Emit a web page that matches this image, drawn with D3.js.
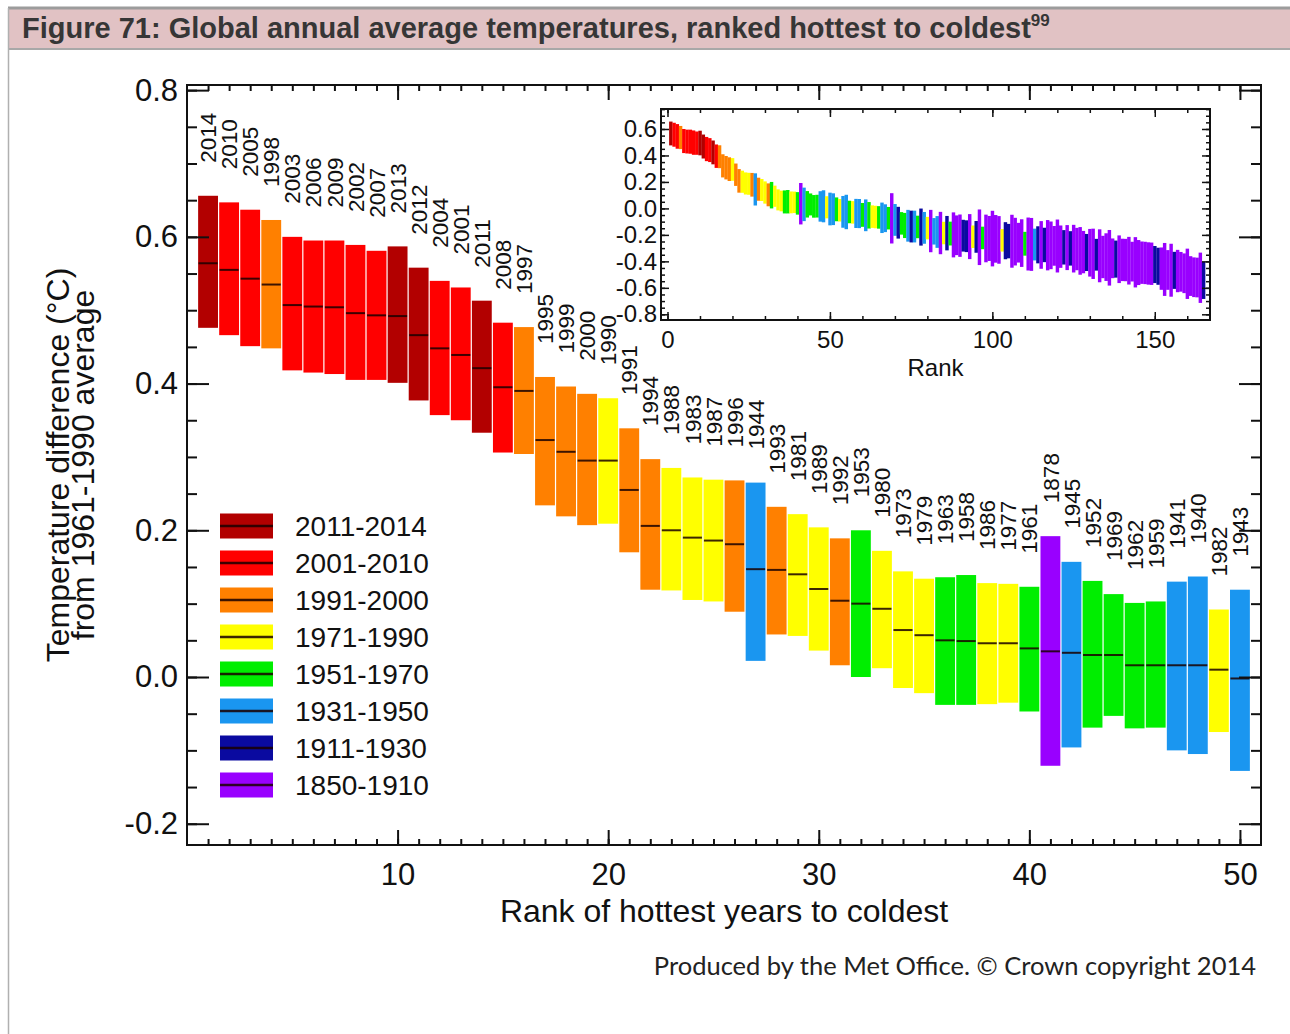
<!DOCTYPE html>
<html>
<head>
<meta charset="utf-8">
<script src="https://cdn.jsdelivr.net/npm/d3@7"></script>
<style>
  body { margin: 0; background: #fff; }
  svg { display: block; }
  text { font-family: "Liberation Sans", Arial, Helvetica, sans-serif; fill: #111; }
</style>
</head>
<body>
<svg id="chart" width="1290" height="1034"></svg>
<script>
// ---- Periods used to colour each year ----
const periodLabels    = ["2011-2014", "2001-2010", "1991-2000", "1971-1990", "1951-1970", "1931-1950", "1911-1930", "1850-1910"];
const periodFirstYear = [2011, 2001, 1991, 1971, 1951, 1931, 1911, 1850];
const periodColors    = ["#b20000", "#ff0000", "#ff8000", "#ffff00", "#00ee00", "#1a96f0", "#0a0aa0", "#9900ff"];

// ---- Top 50 years, ranked hottest to coldest (anomaly vs 1961-1990, °C) ----
const rankYears  = [2014, 2010, 2005, 1998, 2003, 2006, 2009, 2002, 2007, 2013,
                    2012, 2004, 2001, 2011, 2008, 1997, 1995, 1999, 2000, 1990,
                    1991, 1994, 1988, 1983, 1987, 1996, 1944, 1993, 1981, 1989,
                    1992, 1953, 1980, 1973, 1979, 1963, 1958, 1986, 1977, 1961,
                    1878, 1945, 1952, 1969, 1962, 1959, 1941, 1940, 1982, 1943];
const rankCentre = [0.564, 0.555, 0.543, 0.535, 0.507, 0.505, 0.504, 0.496, 0.493, 0.492,
                    0.466, 0.448, 0.439, 0.421, 0.395, 0.390, 0.323, 0.307, 0.295, 0.295,
                    0.255, 0.206, 0.200, 0.190, 0.186, 0.181, 0.147, 0.146, 0.140, 0.120,
                    0.104, 0.100, 0.093, 0.064, 0.057, 0.050, 0.049, 0.046, 0.046, 0.039,
                    0.035, 0.033, 0.030, 0.030, 0.016, 0.016, 0.016, 0.016, 0.010, -0.002];
const rankLower  = [0.476, 0.466, 0.451, 0.448, 0.418, 0.415, 0.413, 0.405, 0.405, 0.401,
                    0.377, 0.357, 0.350, 0.333, 0.306, 0.304, 0.234, 0.219, 0.207, 0.209,
                    0.170, 0.119, 0.118, 0.105, 0.103, 0.089, 0.022, 0.058, 0.056, 0.036,
                    0.016, 0.000, 0.012, -0.015, -0.022, -0.038, -0.038, -0.037, -0.035, -0.047,
                    -0.121, -0.096, -0.069, -0.053, -0.070, -0.069, -0.100, -0.105, -0.075, -0.128];
const rankUpper  = [0.656, 0.647, 0.637, 0.623, 0.600, 0.595, 0.595, 0.589, 0.581, 0.587,
                    0.558, 0.540, 0.531, 0.513, 0.483, 0.477, 0.409, 0.396, 0.386, 0.380,
                    0.339, 0.297, 0.285, 0.272, 0.269, 0.268, 0.265, 0.232, 0.222, 0.204,
                    0.189, 0.200, 0.172, 0.144, 0.134, 0.136, 0.139, 0.128, 0.127, 0.123,
                    0.192, 0.157, 0.131, 0.113, 0.101, 0.103, 0.130, 0.137, 0.092, 0.119];

// ---- Remaining years (ranks 51-165) for the full-record inset ----
const tailYears  = [1938, 1957, 1984, 1937, 1942, 1970, 1985, 1947, 1948, 1960,
                    1939, 1951, 1978, 1972, 1966, 1946, 1949, 1967, 1877, 1931,
                    1926, 1968, 1954, 1934, 1930, 1932, 1965, 1915, 1936, 1975,
                    1889, 1950, 1935, 1896, 1971, 1921, 1955, 1881, 1900, 1897,
                    1928, 1927, 1882, 1974, 1925, 1851, 1964, 1872, 1880, 1852,
                    1879, 1868, 1976, 1914, 1920, 1854, 1866, 1901, 1869, 1956,
                    1853, 1855, 1933, 1919, 1870, 1923, 1863, 1865, 1906, 1859,
                    1899, 1924, 1883, 1922, 1873, 1888, 1867, 1891, 1918, 1871,
                    1860, 1929, 1856, 1886, 1874, 1850, 1905, 1916, 1876, 1885,
                    1895, 1875, 1902, 1861, 1884, 1894, 1898, 1890, 1887, 1913,
                    1912, 1892, 1857, 1907, 1858, 1917, 1893, 1903, 1910, 1864,
                    1908, 1904, 1909, 1862, 1911];
const tailCentre = [-0.006, -0.007, -0.014, -0.026, -0.027, -0.027, -0.030, -0.038, -0.039, -0.049,
                    -0.052, -0.052, -0.062, -0.065, -0.068, -0.071, -0.074, -0.074, -0.075, -0.087,
                    -0.108, -0.113, -0.129, -0.131, -0.137, -0.137, -0.140, -0.141, -0.147, -0.149,
                    -0.171, -0.173, -0.178, -0.186, -0.186, -0.187, -0.190, -0.200, -0.203, -0.206,
                    -0.206, -0.210, -0.213, -0.214, -0.215, -0.218, -0.223, -0.227, -0.227, -0.228,
                    -0.230, -0.238, -0.241, -0.244, -0.247, -0.248, -0.251, -0.259, -0.262, -0.267,
                    -0.269, -0.272, -0.273, -0.275, -0.276, -0.276, -0.278, -0.279, -0.283, -0.284,
                    -0.289, -0.294, -0.296, -0.302, -0.304, -0.307, -0.321, -0.330, -0.333, -0.335,
                    -0.343, -0.350, -0.358, -0.367, -0.368, -0.373, -0.377, -0.383, -0.384, -0.389,
                    -0.390, -0.395, -0.402, -0.407, -0.409, -0.410, -0.412, -0.416, -0.418, -0.424,
                    -0.437, -0.455, -0.461, -0.465, -0.467, -0.468, -0.473, -0.479, -0.490, -0.494,
                    -0.511, -0.520, -0.522, -0.524, -0.544];
const tailHalf   = [0.12, 0.09, 0.085, 0.12, 0.13, 0.085, 0.085, 0.11, 0.11, 0.09,
                    0.12, 0.10, 0.085, 0.085, 0.085, 0.115, 0.105, 0.085, 0.19, 0.12,
                    0.12, 0.085, 0.095, 0.12, 0.12, 0.12, 0.085, 0.14, 0.12, 0.085,
                    0.16, 0.10, 0.12, 0.16, 0.085, 0.13, 0.09, 0.17, 0.15, 0.16,
                    0.12, 0.12, 0.17, 0.085, 0.12, 0.21, 0.085, 0.18, 0.17, 0.21,
                    0.18, 0.18, 0.085, 0.14, 0.13, 0.20, 0.18, 0.15, 0.18, 0.09,
                    0.20, 0.20, 0.12, 0.14, 0.18, 0.13, 0.19, 0.18, 0.15, 0.20,
                    0.16, 0.13, 0.17, 0.13, 0.18, 0.16, 0.18, 0.16, 0.14, 0.18,
                    0.19, 0.12, 0.20, 0.16, 0.18, 0.21, 0.15, 0.14, 0.18, 0.16,
                    0.16, 0.18, 0.15, 0.19, 0.17, 0.16, 0.16, 0.16, 0.16, 0.14,
                    0.14, 0.16, 0.20, 0.15, 0.20, 0.14, 0.16, 0.15, 0.15, 0.19,
                    0.15, 0.15, 0.15, 0.19, 0.14];

// ---- Axis tick values ----
const xMajorTicks = [10, 20, 30, 40, 50];
const yMajorTicks = [-0.2, 0.0, 0.2, 0.4, 0.6, 0.8];
const insetXTicks = [0, 50, 100, 150];
const insetYTicks = [-0.8, -0.6, -0.4, -0.2, 0.0, 0.2, 0.4, 0.6];

const colourOf = year => periodColors[periodFirstYear.findIndex(f => year >= f)];
const fmt1 = d => d.toFixed(1);

const svg = d3.select("#chart");

// ---- Heading band ----
svg.append("rect").attr("x", 8).attr("y", 8).attr("width", 1282).attr("height", 41).attr("fill", "#e1c2c4");
svg.append("line").attr("x1", 8).attr("x2", 1290).attr("y1", 8).attr("y2", 8).attr("stroke", "#9c9c9c").attr("stroke-width", 3);
svg.append("line").attr("x1", 8).attr("x2", 1290).attr("y1", 49).attr("y2", 49).attr("stroke", "#a8a8a8").attr("stroke-width", 2);
svg.append("line").attr("x1", 8.5).attr("x2", 8.5).attr("y1", 8).attr("y2", 1034).attr("stroke", "#b0b0b0").attr("stroke-width", 1.5);
const heading = svg.append("text").attr("x", 22).attr("y", 38)
  .style("font-weight", "bold").style("font-size", "29px").style("fill", "#363636");
heading.append("tspan").text("Figure 71: Global annual average temperatures, ranked hottest to coldest");
heading.append("tspan").attr("dy", -12).style("font-size", "17px").text("99");

// ---- Main panel ----
const pL = 187, pR = 1261, pT = 85, pB = 845;
const x = d3.scaleLinear().domain([0, 51]).range([pL, pR]);
const y = d3.scaleLinear().domain([-0.229, 0.807]).range([pB, pT]);
const step = x(1) - x(0);

const main = svg.append("g");

const ranks = rankYears.map((yr, i) => ({
  rank: i + 1, year: yr, centre: rankCentre[i], lower: rankLower[i], upper: rankUpper[i]
}));

main.selectAll("rect.bar").data(ranks).join("rect")
  .attr("class", "bar")
  .attr("x", d => x(d.rank - 0.5) + 0.6)
  .attr("width", step - 1.2)
  .attr("y", d => y(d.upper))
  .attr("height", d => y(d.lower) - y(d.upper))
  .attr("fill", d => colourOf(d.year));

main.selectAll("line.mid").data(ranks).join("line")
  .attr("class", "mid")
  .attr("x1", d => x(d.rank - 0.5) + 1)
  .attr("x2", d => x(d.rank + 0.5) - 1)
  .attr("y1", d => y(d.centre))
  .attr("y2", d => y(d.centre))
  .attr("stroke", "#1a0000").attr("stroke-opacity", 0.85).attr("stroke-width", 2);

main.selectAll("text.yr").data(ranks).join("text")
  .attr("class", "yr")
  .attr("transform", d => `translate(${x(d.rank)},${y(d.upper) - 33}) rotate(-90)`)
  .attr("dy", "0.36em")
  .style("font-size", "22.5px")
  .text(d => d.year);

// axes (ticks point inward)
function styleAxis(g) {
  g.select(".domain").remove();
  g.selectAll(".tick line").attr("stroke", "#111").attr("stroke-width", 2);
  g.selectAll(".tick text").style("font-size", "31px").attr("fill", "#111");
}
main.append("g").attr("transform", `translate(0,${pB})`)
  .call(d3.axisBottom(x).tickValues(d3.range(1, 51)).tickSize(-6).tickFormat(""))
  .call(styleAxis);
main.append("g").attr("transform", `translate(0,${pB})`)
  .call(d3.axisBottom(x).tickValues(xMajorTicks).tickSize(-15).tickPadding(18).tickFormat(d3.format("d")))
  .call(styleAxis);
main.append("g").attr("transform", `translate(0,${pT})`)
  .call(d3.axisTop(x).tickValues(d3.range(1, 51)).tickSize(-6).tickFormat(""))
  .call(styleAxis);
main.append("g").attr("transform", `translate(0,${pT})`)
  .call(d3.axisTop(x).tickValues(xMajorTicks).tickSize(-15).tickFormat(""))
  .call(styleAxis);

const yMinor = d3.range(-0.2, 0.81, 0.05);
main.append("g").attr("transform", `translate(${pL},0)`)
  .call(d3.axisLeft(y).tickValues(yMinor).tickSize(-10).tickFormat(""))
  .call(styleAxis);
main.append("g").attr("transform", `translate(${pL},0)`)
  .call(d3.axisLeft(y).tickValues(yMajorTicks).tickSize(-22).tickPadding(9).tickFormat(fmt1))
  .call(styleAxis);
main.append("g").attr("transform", `translate(${pR},0)`)
  .call(d3.axisRight(y).tickValues(yMinor).tickSize(-10).tickFormat(""))
  .call(styleAxis);
main.append("g").attr("transform", `translate(${pR},0)`)
  .call(d3.axisRight(y).tickValues(yMajorTicks).tickSize(-22).tickFormat(""))
  .call(styleAxis);

main.append("rect").attr("x", pL).attr("y", pT).attr("width", pR - pL).attr("height", pB - pT)
  .attr("fill", "none").attr("stroke", "#111").attr("stroke-width", 2);

// axis titles
main.append("text").attr("x", (pL + pR) / 2).attr("y", 922)
  .attr("text-anchor", "middle").style("font-size", "32px")
  .text("Rank of hottest years to coldest");
const yTitle = main.append("text").attr("transform", `translate(58,${(pT + pB) / 2}) rotate(-90)`)
  .attr("text-anchor", "middle").style("font-size", "32px");
yTitle.append("tspan").attr("x", 0).attr("dy", "0.35em").text("Temperature difference (°C)");
yTitle.append("tspan").attr("x", 0).attr("dy", 25).text("from 1961-1990 average");

// ---- Legend ----
const legend = main.append("g");
periodLabels.forEach((lab, i) => {
  const cy = 526 + i * 37;
  legend.append("rect").attr("x", 220).attr("y", cy - 12.5).attr("width", 53).attr("height", 25)
    .attr("fill", periodColors[i]);
  legend.append("line").attr("x1", 220).attr("x2", 273).attr("y1", cy).attr("y2", cy)
    .attr("stroke", "#1a0000").attr("stroke-opacity", 0.85).attr("stroke-width", 2.5);
  legend.append("text").attr("x", 295).attr("y", cy + 10).style("font-size", "28px").text(lab);
});

// ---- Inset: the full record ----
const iL = 661, iR = 1210, iT = 109, iB = 320;
const xi = d3.scaleLinear().domain([-2, 167]).range([iL, iR]);
const yi = d3.scaleLinear().domain([-0.843, 0.751]).range([iB, iT]);
const inset = svg.append("g");
inset.append("rect").attr("x", iL).attr("y", iT).attr("width", iR - iL).attr("height", iB - iT).attr("fill", "#fff");

const allRanks = ranks.map(d => ({ rank: d.rank, year: d.year, lower: d.lower, upper: d.upper }))
  .concat(tailYears.map((yr, i) => ({
    rank: 51 + i, year: yr, lower: tailCentre[i] - tailHalf[i], upper: tailCentre[i] + tailHalf[i]
  })));
const istep = xi(1) - xi(0);
inset.selectAll("rect.ib").data(allRanks).join("rect")
  .attr("class", "ib")
  .attr("x", d => xi(d.rank - 0.5))
  .attr("width", istep + 0.2)
  .attr("y", d => yi(d.upper))
  .attr("height", d => yi(d.lower) - yi(d.upper))
  .attr("fill", d => colourOf(d.year));

function styleInset(g) {
  g.select(".domain").remove();
  g.selectAll(".tick line").attr("stroke", "#111").attr("stroke-width", 1.5);
  g.selectAll(".tick text").style("font-size", "24px").attr("fill", "#111");
}
const xiMinor = d3.range(0, 166, 10);
const yiMinor = d3.range(-0.8, 0.76, 0.05);
inset.append("g").attr("transform", `translate(0,${iB})`)
  .call(d3.axisBottom(xi).tickValues(xiMinor).tickSize(-4).tickFormat("")).call(styleInset);
inset.append("g").attr("transform", `translate(0,${iB})`)
  .call(d3.axisBottom(xi).tickValues(insetXTicks).tickSize(-8).tickPadding(11).tickFormat(d3.format("d"))).call(styleInset);
inset.append("g").attr("transform", `translate(0,${iT})`)
  .call(d3.axisTop(xi).tickValues(xiMinor).tickSize(-4).tickFormat("")).call(styleInset);
inset.append("g").attr("transform", `translate(0,${iT})`)
  .call(d3.axisTop(xi).tickValues(insetXTicks).tickSize(-8).tickFormat("")).call(styleInset);
inset.append("g").attr("transform", `translate(${iL},0)`)
  .call(d3.axisLeft(yi).tickValues(yiMinor).tickSize(-4).tickFormat("")).call(styleInset);
inset.append("g").attr("transform", `translate(${iL},0)`)
  .call(d3.axisLeft(yi).tickValues(insetYTicks).tickSize(-8).tickPadding(4).tickFormat(fmt1)).call(styleInset);
inset.append("g").attr("transform", `translate(${iR},0)`)
  .call(d3.axisRight(yi).tickValues(yiMinor).tickSize(-4).tickFormat("")).call(styleInset);
inset.append("g").attr("transform", `translate(${iR},0)`)
  .call(d3.axisRight(yi).tickValues(insetYTicks).tickSize(-8).tickFormat("")).call(styleInset);
inset.append("rect").attr("x", iL).attr("y", iT).attr("width", iR - iL).attr("height", iB - iT)
  .attr("fill", "none").attr("stroke", "#111").attr("stroke-width", 2);
inset.append("text").attr("x", (iL + iR) / 2).attr("y", 376).attr("text-anchor", "middle")
  .style("font-size", "24px").text("Rank");

// ---- Credit line ----
svg.append("text").attr("x", 1256).attr("y", 975).attr("text-anchor", "end")
  .style("font-family", "Lato, 'Open Sans', sans-serif").style("font-size", "25.5px").style("fill", "#222")
  .text("Produced by the Met Office. © Crown copyright 2014");
</script>
</body>
</html>
